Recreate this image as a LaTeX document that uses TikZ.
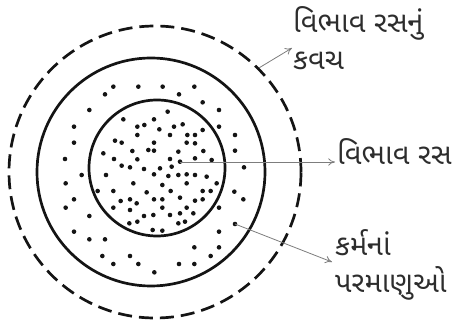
\documentclass[tikz,border=0pt]{standalone}
\usepackage{fontspec}
\newfontfamily\gujfont[Script=Gujarati]{Noto Sans Gujarati UI}
\usetikzlibrary{arrows.meta,positioning}
\definecolor{rsedge}{RGB}{20,20,20}
\definecolor{rsptr}{RGB}{125,125,125}
\definecolor{rsink}{RGB}{45,45,45}
\tikzset{
  ring/.style={circle, draw=rsedge, line width=2.7pt, inner sep=0pt},
  shell/.style={ring, dash pattern=on 14pt off 7pt},
  atom/.style={fill=rsedge},
  ptr/.style={-{To[length=2.4mm,width=2.6mm]}, draw=rsptr, line width=0.8pt},
  lbl/.style={font=\gujfont\fontsize{29}{34}\selectfont, text=rsink, inner sep=0pt}
}
\begin{document}
\begin{tikzpicture}[x=1pt,y=-1pt]
  \useasboundingbox (0,0) rectangle (456,326);
  % rings
  \node[shell, minimum size=292pt] (kavach) at (155,172) {};
  \node[ring, minimum size=228pt] (midring) at (151,172) {};
  \node[ring, minimum size=136pt] (core) at (157,168) {};
  % karma atoms between the rings
  \foreach \x/\y in {340/260,415/260,488/260,583/260,315/283,537/283,608/307,
    268/330,657/330,222/380,657/380,222/428,705/405,705/452,195/477,732/502,
    245/525,197/550,703/575,222/598,730/598,197/623,657/623,268/648,705/672,
    222/695,657/695,268/718,315/718,583/742,657/742,307/768,390/768,632/768,
    340/792,415/792,537/792,583/792,463/817}
    \fill[atom] (\x/3,\y/3) circle (2.3pt);
  % atoms inside the core
  \foreach \x/\y in {503/335,370/358,462/358,412/380,433/375,478/388,522/380,
    548/373,412/405,510/405,562/405,585/405,608/390,345/422,365/428,462/428,
    560/428,585/430,445/450,462/452,397/453,310/460,535/455,610/453,342/477,
    412/478,510/477,540/485,585/475,635/480,365/497,390/502,432/507,480/505,
    515/500,318/525,462/523,505/528,535/525,560/523,585/525,620/530,400/550,
    487/555,560/550,650/550,293/573,340/573,440/577,512/573,608/573,632/573,
    362/603,390/598,410/610,462/598,487/598,540/593,585/602,608/598,340/623,
    390/630,487/623,560/623,432/648,460/645,510/645,540/640,580/640,388/670,
    412/665,535/670,555/665,458/690,487/692}
    \fill[atom] (\x/3,\y/3) circle (2.3pt);
  \coordinate (rasdot) at (180,162);
  \coordinate (anudot) at (235,224);
  % labels
  \node[lbl, anchor=base west] (kavachtop) at (293,33) {વિભાવ રસનું};
  \node[lbl, anchor=base west] (kavachbot) at ([yshift=-37pt]kavachtop.base west) {કવચ};
  \node[lbl, anchor=base west] (rastxt) at (337,165) {વિભાવ રસ};
  \node[lbl, anchor=base west] (anutop) at (335,256) {કર્મનાં};
  \node[lbl, anchor=base west] (anubot) at ([yshift=-37pt]anutop.base west) {પરમાણુઓ};
  \coordinate (kavachtip) at (292,48);
  \coordinate (rastip) at (335,162);
  \coordinate (anutip) at (332,262);
  \draw[ptr] (kavach.45) -- (kavachtip);
  \draw[ptr] (rasdot) -- (rastip);
  \draw[ptr] (anudot) -- (anutip);
\end{tikzpicture}
\end{document}
